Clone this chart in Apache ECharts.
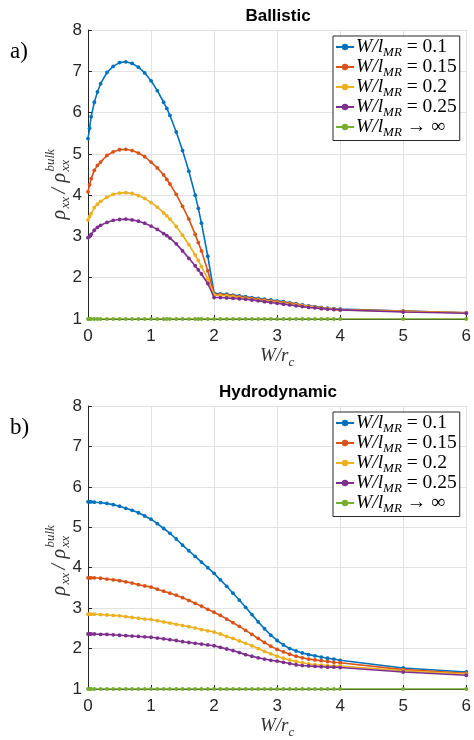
<!DOCTYPE html>
<html><head><meta charset="utf-8">
<script src="https://cdn.jsdelivr.net/npm/echarts@6/dist/echarts.min.js"></script>
<style>html,body{margin:0;padding:0;background:#fff}#c{width:474px;height:740px}</style>
</head><body><div id="c"></div>
<script>
const xTicks = [0, 1, 2, 3, 4, 5, 6];
const yTicks = [1, 2, 3, 4, 5, 6, 7, 8];
const seriesNames = ['W/lMR = 0.1', 'W/lMR = 0.15', 'W/lMR = 0.2', 'W/lMR = 0.25', 'W/lMR -> inf'];
const legendValues = ['= 0.1', '= 0.15', '= 0.2', '= 0.25', '\u2192 \u221e'];
const panelTitles = ['Ballistic', 'Hydrodynamic'];
const panelLetters = ['a)', 'b)'];

const xBallistic = [0, 0.025, 0.05, 0.1, 0.15, 0.2, 0.3, 0.4, 0.5, 0.6, 0.7, 0.8, 0.9, 1.0, 1.1, 1.2, 1.25, 1.3, 1.4, 1.5, 1.6, 1.7, 1.75, 1.8, 1.9, 2.0,
  2.1, 2.2, 2.3, 2.4, 2.5, 2.6, 2.7, 2.8, 2.9, 3.0, 3.1, 3.2, 3.3, 3.4, 3.5, 3.6, 3.7, 3.8, 3.9, 4.0, 5, 6];
const ballistic_010 = [5.37, 5.62, 5.9, 6.25, 6.5, 6.7, 6.97, 7.12, 7.21, 7.23, 7.19, 7.10, 6.96, 6.77, 6.53, 6.25, 6.1, 5.93, 5.53, 5.08, 4.58, 4.0, 3.68, 3.32, 2.52, 1.62,
  1.61, 1.60, 1.58, 1.56, 1.54, 1.52, 1.50, 1.48, 1.46, 1.44, 1.42, 1.39, 1.37, 1.34, 1.32, 1.30, 1.28, 1.26, 1.25, 1.24, 1.19, 1.15];
const ballistic_015 = [4.08, 4.25, 4.4, 4.6, 4.72, 4.8, 4.96, 5.05, 5.1, 5.11, 5.08, 5.02, 4.93, 4.8, 4.66, 4.49, 4.38, 4.27, 4.02, 3.73, 3.42, 3.05, 2.85, 2.65, 2.17, 1.60,
  1.59, 1.58, 1.56, 1.54, 1.52, 1.50, 1.48, 1.46, 1.44, 1.42, 1.40, 1.38, 1.36, 1.33, 1.31, 1.29, 1.27, 1.25, 1.24, 1.23, 1.19, 1.15];
const ballistic_020 = [3.4, 3.48, 3.55, 3.7, 3.78, 3.85, 3.95, 4.02, 4.05, 4.06, 4.04, 3.99, 3.92, 3.82, 3.71, 3.57, 3.5, 3.42, 3.24, 3.03, 2.8, 2.55, 2.42, 2.27, 1.97, 1.58,
  1.57, 1.56, 1.54, 1.52, 1.50, 1.48, 1.46, 1.44, 1.42, 1.40, 1.38, 1.36, 1.34, 1.32, 1.30, 1.28, 1.26, 1.25, 1.24, 1.22, 1.18, 1.15];
const ballistic_025 = [2.97, 3.0, 3.05, 3.15, 3.22, 3.27, 3.34, 3.39, 3.41, 3.42, 3.4, 3.37, 3.32, 3.25, 3.17, 3.07, 3.02, 2.96, 2.82, 2.65, 2.47, 2.29, 2.19, 2.09, 1.86, 1.52,
  1.52, 1.51, 1.50, 1.49, 1.48, 1.46, 1.44, 1.42, 1.40, 1.38, 1.36, 1.34, 1.32, 1.30, 1.28, 1.27, 1.25, 1.24, 1.23, 1.22, 1.17, 1.14];
const ballistic_inf = [1, 1, 1, 1, 1, 1, 1, 1, 1, 1, 1, 1, 1, 1, 1, 1, 1, 1, 1, 1, 1, 1, 1, 1, 1, 1,
  1, 1, 1, 1, 1, 1, 1, 1, 1, 1, 1, 1, 1, 1, 1, 1, 1, 1, 1, 1, 1, 1];

const xHydro = [0, 0.025, 0.05, 0.1, 0.2, 0.3, 0.4, 0.5, 0.6, 0.7, 0.8, 0.9, 1.0, 1.1, 1.2, 1.3, 1.4, 1.5, 1.6, 1.7, 1.8, 1.9, 2.0,
  2.1, 2.2, 2.3, 2.4, 2.5, 2.6, 2.7, 2.8, 2.9, 3.0, 3.1, 3.2, 3.3, 3.4, 3.5, 3.6, 3.7, 3.8, 3.9, 4.0, 5, 6];
const hydro_010 = [5.63, 5.63, 5.63, 5.62, 5.61, 5.59, 5.56, 5.52, 5.47, 5.42, 5.36, 5.28, 5.20, 5.09, 4.97, 4.85, 4.71, 4.56, 4.42, 4.28, 4.14, 4.00, 3.86,
  3.70, 3.54, 3.37, 3.20, 3.02, 2.84, 2.66, 2.49, 2.33, 2.20, 2.09, 2.0, 1.94, 1.89, 1.85, 1.82, 1.79, 1.76, 1.74, 1.71, 1.52, 1.42];
const hydro_015 = [3.75, 3.75, 3.75, 3.75, 3.74, 3.72, 3.70, 3.68, 3.65, 3.62, 3.58, 3.55, 3.52, 3.47, 3.42, 3.37, 3.32, 3.26, 3.19, 3.12, 3.05, 2.97, 2.90,
  2.82, 2.73, 2.64, 2.55, 2.45, 2.35, 2.25, 2.15, 2.06, 1.98, 1.92, 1.86, 1.81, 1.77, 1.74, 1.72, 1.70, 1.68, 1.66, 1.65, 1.48, 1.39];
const hydro_020 = [2.85, 2.85, 2.85, 2.85, 2.84, 2.83, 2.82, 2.81, 2.79, 2.77, 2.75, 2.73, 2.72, 2.69, 2.66, 2.63, 2.60, 2.57, 2.54, 2.51, 2.47, 2.44, 2.41,
  2.36, 2.30, 2.25, 2.19, 2.13, 2.07, 2.00, 1.93, 1.87, 1.81, 1.76, 1.72, 1.68, 1.65, 1.62, 1.60, 1.59, 1.58, 1.57, 1.57, 1.45, 1.37];
const hydro_025 = [2.36, 2.36, 2.36, 2.36, 2.35, 2.35, 2.34, 2.33, 2.32, 2.31, 2.30, 2.29, 2.28, 2.26, 2.24, 2.22, 2.20, 2.17, 2.15, 2.13, 2.11, 2.09, 2.07,
  2.03, 1.99, 1.95, 1.90, 1.85, 1.81, 1.77, 1.74, 1.71, 1.69, 1.66, 1.63, 1.60, 1.58, 1.57, 1.56, 1.55, 1.54, 1.54, 1.53, 1.42, 1.34];
const hydro_inf = [1, 1, 1, 1, 1, 1, 1, 1, 1, 1, 1, 1, 1, 1, 1, 1, 1, 1, 1, 1, 1, 1, 1,
  1, 1, 1, 1, 1, 1, 1, 1, 1, 1, 1, 1, 1, 1, 1, 1, 1, 1, 1, 1, 1, 1];

const colors = ['#0072BD', '#D95319', '#EDB120', '#7E2F8E', '#77AC30'];
const SERIF = '"Liberation Serif", "DejaVu Serif", serif';
const SANS = '"Liberation Sans", Arial, sans-serif';

const panels = [
  { x: xBallistic, ys: [ballistic_010, ballistic_015, ballistic_020, ballistic_025, ballistic_inf], top: 30 },
  { x: xHydro, ys: [hydro_010, hydro_015, hydro_020, hydro_025, hydro_inf], top: 406 }
];
const GL = 88, GW = 380, GH = 289;

const richLegend = {
  i: { fontFamily: SERIF, fontStyle: 'italic', fontSize: 19.5, color: '#000', lineHeight: 18, verticalAlign: 'middle' },
  s: { fontFamily: SERIF, fontStyle: 'italic', fontSize: 13, color: '#000', lineHeight: 25, verticalAlign: 'bottom' },
  n: { fontFamily: SERIF, fontSize: 19.5, color: '#000', lineHeight: 18, verticalAlign: 'middle' }
};
const richAxis = {
  i: { fontFamily: SERIF, fontStyle: 'italic', fontSize: 19, color: '#333', lineHeight: 19, verticalAlign: 'middle' },
  s: { fontFamily: SERIF, fontStyle: 'italic', fontSize: 13, color: '#333', lineHeight: 26, verticalAlign: 'bottom' }
};

const grid = [], xAxis = [], yAxis = [], series = [], legend = [], graphic = [];
panels.forEach((p, pi) => {
  grid.push({ left: GL, top: p.top, width: GW, height: GH, containLabel: false });
  xAxis.push({
    type: 'value', gridIndex: pi, min: xTicks[0], max: xTicks[xTicks.length - 1], interval: 1,
    axisLine: { show: true, onZero: false, lineStyle: { color: '#262626', width: 1 } },
    axisTick: { show: true, inside: true, length: 4, lineStyle: { color: '#262626' } },
    axisLabel: { fontFamily: SANS, fontSize: 17, color: '#262626', margin: 9 },
    splitLine: { show: true, lineStyle: { color: '#e3e3e3', width: 1 } },
    name: '{i|W/r}{s|c}', nameLocation: 'middle', nameGap: 24,
    nameTextStyle: { rich: richAxis }
  });
  yAxis.push({
    type: 'value', gridIndex: pi, min: yTicks[0], max: yTicks[yTicks.length - 1], interval: 1,
    axisLine: { show: true, onZero: false, lineStyle: { color: '#262626', width: 1 } },
    axisTick: { show: true, inside: true, length: 4, lineStyle: { color: '#262626' } },
    axisLabel: { fontFamily: SANS, fontSize: 17, color: '#262626', margin: 6 },
    splitLine: { show: true, lineStyle: { color: '#e3e3e3', width: 1 } }
  });
  p.ys.forEach((ys, si) => {
    series.push({
      type: 'line', name: seriesNames[si], xAxisIndex: pi, yAxisIndex: pi,
      data: p.x.map((xv, k) => [xv, ys[k]]),
      symbol: 'circle', symbolSize: 3.8, showSymbol: true,
      lineStyle: { color: colors[si], width: 1.6 },
      itemStyle: { color: colors[si] },
      animation: false, z: 2 + si
    });
  });
  legend.push({
    orient: 'vertical', left: 333, top: p.top + 6,
    data: seriesNames.slice(), selectedMode: false,
    backgroundColor: '#fff', borderColor: '#262626', borderWidth: 1, borderRadius: 0,
    padding: [1, 3, 1, 2], itemWidth: 18, itemHeight: 8, itemGap: -2.5,
    formatter: function (name) {
      const k = seriesNames.indexOf(name);
      return '{i|W/l}{s|MR}{n| ' + legendValues[k] + '}';
    },
    textStyle: { rich: richLegend, padding: [0, 0, 0, -3] }
  });
  const cx = GL + GW / 2;
  graphic.push({ type: 'text', x: cx, y: p.top - 14,
    style: { text: panelTitles[pi], font: 'bold 17px ' + SANS, fill: '#000', textAlign: 'center', textVerticalAlign: 'middle' } });
  graphic.push({ type: 'text', x: 10, y: p.top + 22,
    style: { text: panelLetters[pi], font: '23px ' + SERIF, fill: '#000', textAlign: 'left', textVerticalAlign: 'middle' } });
  const cy = p.top + GH / 2 + 5;
  graphic.push({
    type: 'group', x: 60, y: cy, rotation: Math.PI / 2,
    children: [
      { type: 'text', x: -40, y: 0, style: { text: 'ρ', font: 'italic 20px ' + SERIF, fill: '#333', textVerticalAlign: 'middle' } },
      { type: 'text', x: -29, y: 6, style: { text: 'xx', font: 'italic 13px ' + SERIF, fill: '#333', textVerticalAlign: 'middle' } },
      { type: 'text', x: -14, y: 0, style: { text: '/', font: 'italic 20px ' + SERIF, fill: '#333', textVerticalAlign: 'middle' } },
      { type: 'text', x: -3, y: 0, style: { text: 'ρ', font: 'italic 20px ' + SERIF, fill: '#333', textVerticalAlign: 'middle' } },
      { type: 'text', x: 8, y: 6, style: { text: 'xx', font: 'italic 13px ' + SERIF, fill: '#333', textVerticalAlign: 'middle' } },
      { type: 'text', x: 8, y: -9, style: { text: 'bulk', font: 'italic 13px ' + SERIF, fill: '#333', textVerticalAlign: 'middle' } }
    ]
  });
});

const chart = echarts.init(document.getElementById('c'), null, { renderer: 'canvas' });
chart.setOption({ animation: false, backgroundColor: '#fff', grid, xAxis, yAxis, series, legend, graphic });
</script></body></html>
